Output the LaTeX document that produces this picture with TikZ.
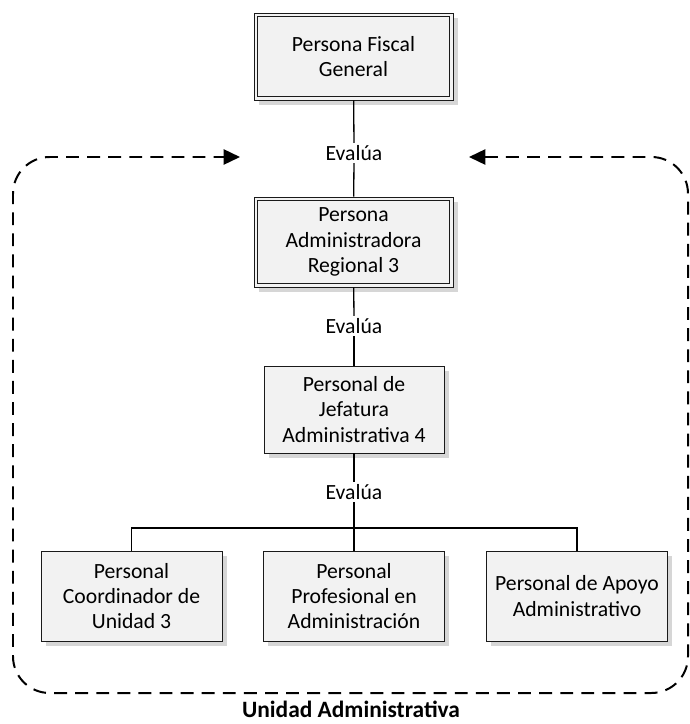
\documentclass[tikz,border=0pt]{standalone}
\usepackage{fontspec}
\setmainfont{Carlito}
\usetikzlibrary{arrows.meta,shadows}
\definecolor{boxfill}{HTML}{F2F2F2}
\definecolor{linec}{HTML}{1A1A1A}
\begin{document}
\begin{tikzpicture}[x=0.03cm,y=-0.03cm,
  box/.style={draw=linec, line width=0.75pt, fill=boxfill, align=center,
    font=\fontsize{18.5}{21.5}\selectfont, inner sep=0pt,
    drop shadow={shadow xshift=0.14cm, shadow yshift=-0.14cm, fill=black!16, opacity=1}},
  inner/.style={draw=linec, line width=0.75pt},
  lbl/.style={font=\fontsize{18.5}{21.5}\selectfont, inner sep=2pt},
  conn/.style={draw=black, line width=1.1pt},
  dashline/.style={line width=1.7pt, dash pattern=on 11pt off 7pt, rounded corners=1.1cm,
    {Triangle[length=14pt,width=13pt]}-{Triangle[length=14pt,width=13pt]}}
]
\useasboundingbox (0,0) rectangle (689,724);

% dashed loop
\coordinate (rtip) at (469,157);
\coordinate (ltip) at (240,157);
\draw[dashline] (rtip) -- (688,157) -- (688,693) -- (13,693) -- (13,157) -- (ltip);

% boxes
\node[box, minimum width=5.97cm, minimum height=2.61cm] (fiscal) at (353.5,56.5) {Persona Fiscal\\General};
\draw[inner] ([xshift=0.12cm,yshift=-0.12cm]fiscal.north west) rectangle ([xshift=-0.12cm,yshift=0.12cm]fiscal.south east);
\node[box, minimum width=5.97cm, minimum height=2.7cm] (admin) at (353.5,242) {Persona\\Administradora\\Regional 3};
\draw[inner] ([xshift=0.12cm,yshift=-0.12cm]admin.north west) rectangle ([xshift=-0.12cm,yshift=0.12cm]admin.south east);
\node[box, minimum width=5.4cm, minimum height=2.61cm] (jefe) at (354,409.5) {Personal de\\Jefatura\\Administrativa 4};
\node[box, minimum width=5.43cm, minimum height=2.7cm] (coord) at (131.5,596) {Personal\\Coordinador de\\Unidad 3};
\node[box, minimum width=5.43cm, minimum height=2.7cm] (prof) at (354,596) {Personal\\Profesional en\\Administración};
\node[box, minimum width=5.43cm, minimum height=2.7cm] (apoyo) at (577,596) {Personal de Apoyo\\Administrativo};

% labels
\node[lbl] (e1) at (354,153) {Evalúa};
\node[lbl] (e2) at (354,326) {Evalúa};
\node[lbl] (e3) at (354,492) {Evalúa};
\coordinate (j) at (354,528);

% connectors
\draw[conn] (fiscal) -- (e1);
\draw[conn] (e1) -- (admin);
\draw[conn] (admin) -- (e2);
\draw[conn] (e2) -- (jefe);
\draw[conn] (jefe) -- (e3);
\draw[conn] (e3) -- (j);
\draw[conn] (coord.north) |- (j) -| (apoyo.north);
\draw[conn] (j) -- (prof.north);

\node[font=\fontsize{20}{24}\selectfont\bfseries, inner sep=0pt] (title) at (351,709) {Unidad Administrativa};
\end{tikzpicture}
\end{document}
